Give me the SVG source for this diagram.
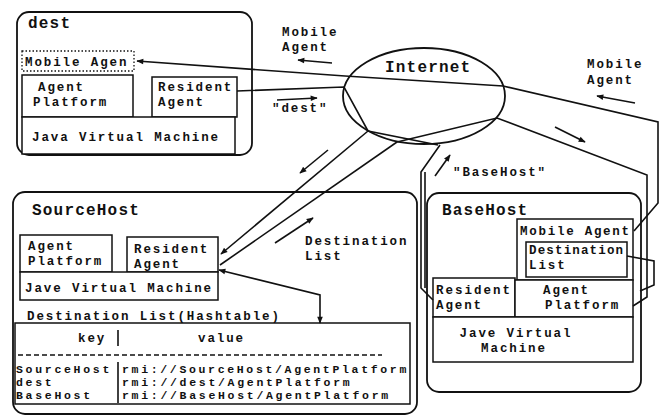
<svg xmlns="http://www.w3.org/2000/svg" width="669" height="419" viewBox="0 0 669 419">
<style>
text{font-family:"Liberation Mono","DejaVu Sans Mono",monospace;font-weight:bold;font-size:12.5px;letter-spacing:1.9px;fill:#111}
.big{font-size:16px;letter-spacing:1.2px}
.row{font-size:11.5px;letter-spacing:2.7px}
.host{fill:none;stroke:#111;stroke-width:1.8}
.box{fill:#fff;stroke:#111;stroke-width:1.5}
.dot{fill:none;stroke:#111;stroke-width:1.3;stroke-dasharray:1.5 2}
.ln{fill:none;stroke:#111;stroke-width:1.6}
.ar{fill:none;stroke:#111;stroke-width:1.6;marker-end:url(#ah)}
</style>
<defs>
<marker id="ah" viewBox="0 0 10 10" refX="9" refY="5" markerWidth="8" markerHeight="7" orient="auto-start-reverse" markerUnits="userSpaceOnUse">
<path d="M0,1 L10,5 L0,9 z" fill="#111"/>
</marker>
</defs>
<rect width="669" height="419" fill="#fff"/>

<g id="dest">
<rect class="host" x="17" y="12" width="235" height="143" rx="12"/>
<text class="big" x="28" y="28">dest</text>
<g id="dest-mobile-agent"><rect class="dot" x="22" y="51" width="112" height="20"/><text x="25" y="66">Mobile Agen</text></g>
<g id="dest-agent-platform"><rect class="box" x="22" y="75" width="111" height="42"/><text x="38" y="91">Agent</text><text x="33" y="106">Platform</text></g>
<g id="dest-resident-agent"><rect class="box" x="152" y="77" width="85" height="40"/><text x="158" y="91">Resident</text><text x="158" y="106">Agent</text></g>
<g id="dest-jvm"><rect class="box" x="22" y="117" width="213" height="37"/><text x="32" y="141">Java Virtual Machine</text></g>
</g>

<g id="internet">
<ellipse cx="424" cy="96" rx="81" ry="48" fill="none" stroke="#111" stroke-width="1.8"/>
<text class="big" x="385" y="72">Internet</text>
</g>

<g id="sourcehost">
<rect class="host" x="13" y="192" width="404" height="222" rx="12"/>
<text class="big" x="32" y="215">SourceHost</text>
<g id="src-agent-platform"><rect class="box" x="20" y="235" width="92" height="37"/><text x="28" y="250">Agent</text><text x="28" y="265">Platform</text></g>
<g id="src-resident-agent"><rect class="box" x="127" y="237" width="91" height="35"/><text x="134" y="253">Resident</text><text x="134" y="268">Agent</text></g>
<g id="src-jvm"><rect class="box" x="20" y="272" width="198" height="28"/><text x="25" y="292">Jave Virtual Machine</text></g>
<g id="dest-list-table">
<text x="27" y="320">Destination List(Hashtable)</text>
<rect class="box" x="15" y="323" width="395" height="81" fill="none"/>
<text x="78" y="342">key</text>
<line class="ln" x1="118" y1="330" x2="118" y2="346" stroke-width="1.2"/>
<text x="198" y="342">value</text>
<line x1="18" y1="355" x2="382" y2="355" stroke="#111" stroke-width="1.3" stroke-dasharray="5 3"/>
<line class="ln" x1="118" y1="362" x2="118" y2="403" stroke-width="1.2"/>
<text class="row" x="16" y="373">SourceHost</text>
<text class="row" x="16" y="386">dest</text>
<text class="row" x="16" y="399">BaseHost</text>
<text class="row" x="122" y="373" textLength="287" lengthAdjust="spacing">rmi://SourceHost/AgentPlatform</text>
<text class="row" x="122" y="386">rmi://dest/AgentPlatform</text>
<text class="row" x="122" y="399">rmi://BaseHost/AgentPlatform</text>
</g>
</g>

<g id="basehost">
<rect class="host" x="427" y="193" width="214" height="199" rx="12"/>
<text class="big" x="442" y="215">BaseHost</text>
<g id="base-mobile-agent"><rect class="box" x="517" y="219" width="116" height="61"/><text x="520" y="235" textLength="111" lengthAdjust="spacing">Mobile Agent</text>
<g id="base-destination-list"><rect class="box" x="526" y="242" width="101" height="35"/><text x="529" y="254" textLength="96" lengthAdjust="spacing">Destination</text><text x="529" y="269">List</text></g></g>
<g id="base-resident-agent"><rect class="box" x="433" y="278" width="82" height="39"/><text x="436" y="294" textLength="76" lengthAdjust="spacing">Resident</text><text x="436" y="309">Agent</text></g>
<g id="base-agent-platform"><rect class="box" x="515" y="280" width="118" height="37"/><text x="543" y="294">Agent</text><text x="545" y="309">Platform</text></g>
<g id="base-jvm"><rect class="box" x="433" y="317" width="200" height="45"/><text x="516" y="337" text-anchor="middle">Jave Virtual</text><text x="514" y="352" text-anchor="middle">Machine</text></g>
</g>

<g id="connectors">
<polyline class="ln" points="634,231 658,203 658,122 503,86 345,76 137,61" marker-end="url(#ah)"/>
<polyline class="ln" points="237,91 344,87 368,131 438,145"/>
<polyline class="ln" points="368,131 221,254" marker-end="url(#ah)"/>
<polyline class="ln" points="397,142 220,265"/>
<polyline class="ln" points="397,142 497,118 647,175 647,297 633,306"/>
<polyline class="ln" points="440,145 421,172 421,288 433,300"/>
<line class="ln" x1="425" y1="172" x2="425" y2="288"/>
<polyline class="ln" points="627,256 654,261 654,285 640,291"/>
<polyline class="ln" points="219,270 320,295 320,323" marker-start="url(#ah)" marker-end="url(#ah)"/>
</g>

<g id="flow-labels">
<text x="282" y="36">Mobile</text>
<text x="282" y="51">Agent</text>
<line class="ar" x1="332" y1="63" x2="298" y2="60"/>
<line class="ar" x1="277" y1="100" x2="317" y2="98"/>
<text x="272" y="112">"dest"</text>
<line class="ar" x1="328" y1="150" x2="300" y2="173"/>
<line class="ar" x1="275" y1="243" x2="313" y2="218"/>
<text x="305" y="245">Destination</text>
<text x="305" y="260">List</text>
<line class="ar" x1="435" y1="176" x2="450" y2="155"/>
<text x="453" y="176">"BaseHost"</text>
<text x="587" y="68">Mobile</text>
<text x="587" y="84">Agent</text>
<line class="ar" x1="635" y1="103" x2="597" y2="96"/>
<line class="ar" x1="555" y1="127" x2="585" y2="142"/>
</g>
</svg>
